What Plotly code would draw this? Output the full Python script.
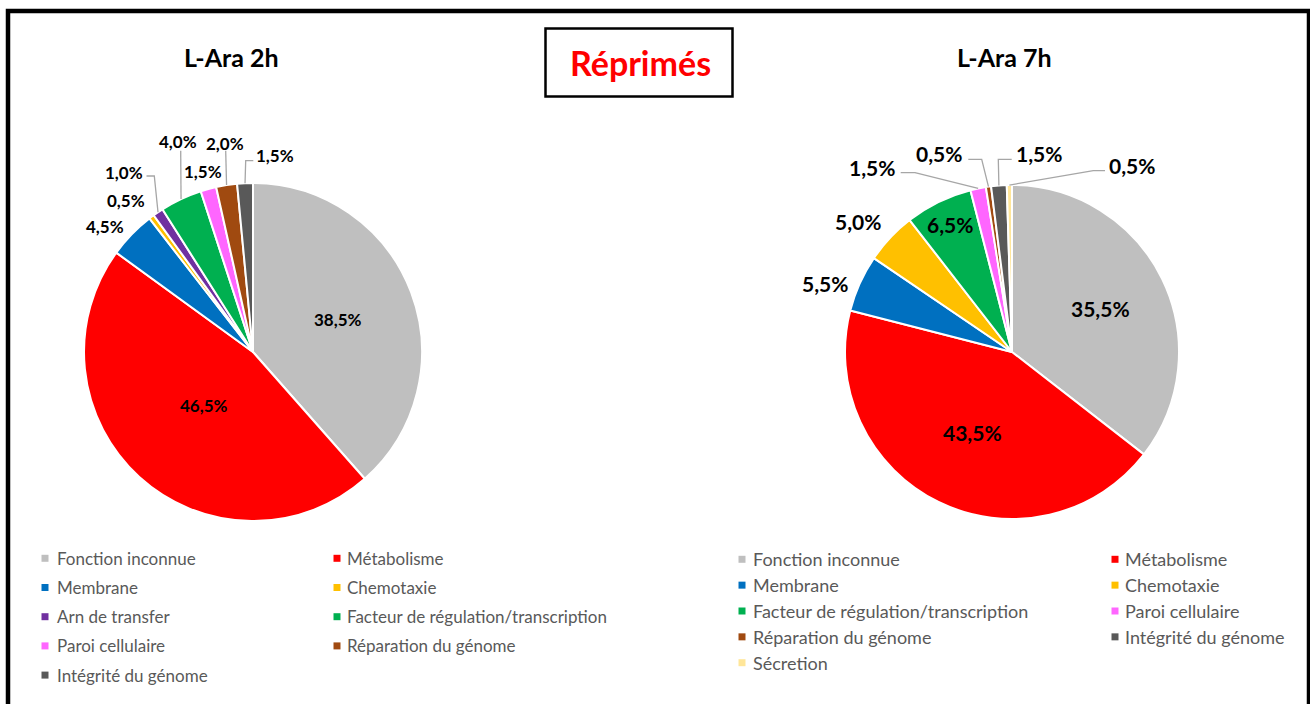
import math
import plotly.graph_objects as go

# ---------------- data ----------------
categories_2h = [
    "Fonction inconnue", "Métabolisme", "Membrane", "Chemotaxie",
    "Arn de transfer", "Facteur de régulation/transcription",
    "Paroi cellulaire", "Réparation du génome", "Intégrité du génome",
]
values_2h = [38.5, 46.5, 4.5, 0.5, 1.0, 4.0, 1.5, 2.0, 1.5]

categories_7h = [
    "Fonction inconnue", "Métabolisme", "Membrane", "Chemotaxie",
    "Facteur de régulation/transcription", "Paroi cellulaire",
    "Réparation du génome", "Intégrité du génome", "Sécretion",
]
values_7h = [35.5, 43.5, 5.5, 5.0, 6.5, 1.5, 0.5, 1.5, 0.5]

titles = ["L-Ara 2h", "L-Ara 7h"]
main_title = "Réprimés"

category_colors = {
    "Fonction inconnue": "#BFBFBF",
    "Métabolisme": "#FF0000",
    "Membrane": "#0070C0",
    "Chemotaxie": "#FFC000",
    "Arn de transfer": "#7030A0",
    "Facteur de régulation/transcription": "#00B050",
    "Paroi cellulaire": "#FF66FF",
    "Réparation du génome": "#A04A10",
    "Intégrité du génome": "#595959",
    "Sécretion": "#FFE699",
}

# ---------------- layout helpers (pixels -> paper) ----------------
W, H = 1310, 704
FONT = "Lato"


def px(x):
    return x / W


def py(y):
    return 1 - y / H


def pct(v):
    return f"{v:.1f}".replace(".", ",") + "%"


def mid_angles(values):
    total = sum(values)
    out, acc = [], 0.0
    for v in values:
        out.append((acc + v / 2) / total * 2 * math.pi)
        acc += v
    return out


def polar(cx, cy, r, a):
    # clockwise from 12 o'clock, in screen pixels
    return cx + r * math.sin(a), cy - r * math.cos(a)


# pie geometry (centre and radius in pixels)
pies = [
    dict(cats=categories_2h, vals=values_2h, cx=253, cy=352, r=169,
         title_xy=(231, 57), label_size=17,
         inside={"Fonction inconnue": 0.54, "Métabolisme": 0.43},
         outside={
             "Membrane": dict(pos=(104.7, 226)),
             "Chemotaxie": dict(pos=(125.5, 200)),
             "Arn de transfer": dict(pos=(124, 172), lead=[(146.5, 176), (154.3, 176)]),
             "Facteur de régulation/transcription": dict(pos=(178, 141.7), lead=[(180.7, 150.7)]),
             "Paroi cellulaire": dict(pos=(203, 171.7)),
             "Réparation du génome": dict(pos=(224.7, 143.8), lead=[(225.7, 150.7)]),
             "Intégrité du génome": dict(pos=(274.5, 155), lead=[(253.3, 160.7), (245.7, 160.7)]),
         },
         legend=dict(x_sq=[45, 337], x_txt=[54.5, 344.7], y0=558.3, dy=29.2, size=17)),
    dict(cats=categories_7h, vals=values_7h, cx=1012, cy=352, r=167,
         title_xy=(1004, 57), label_size=21,
         inside={"Fonction inconnue": 0.59, "Métabolisme": 0.54,
                 "Facteur de régulation/transcription": 0.85},
         outside={
             "Membrane": dict(pos=(825, 283)),
             "Chemotaxie": dict(pos=(858.3, 221.7)),
             "Paroi cellulaire": dict(pos=(871.7, 167.8), lead=[(900.7, 172.7), (915, 172.7)]),
             "Réparation du génome": dict(pos=(939.3, 153.3), lead=[(968.3, 159.3), (981.7, 159.3)]),
             "Intégrité du génome": dict(pos=(1039.3, 153.3), lead=[(1011.7, 159.3), (998.3, 159.3)]),
             "Sécretion": dict(pos=(1131.7, 165), lead=[(1105, 170.7), (1093.3, 170.7)]),
         },
         legend=dict(x_sq=[742, 1115], x_txt=[751, 1123.3], y0=559.3, dy=25.85, size=18)),
]

fig = go.Figure()
annotations = []
shapes = []

for k, p in enumerate(pies):
    cx, cy, r = p["cx"], p["cy"], p["r"]
    fig.add_trace(go.Pie(
        labels=p["cats"],
        values=p["vals"],
        sort=False,
        direction="clockwise",
        rotation=0,
        marker=dict(colors=[category_colors[c] for c in p["cats"]],
                    line=dict(color="white", width=2)),
        textinfo="none",
        hoverinfo="label+percent",
        showlegend=False,
        domain=dict(x=[px(cx - r), px(cx + r)], y=[py(cy + r), py(cy - r)]),
    ))

    angles = mid_angles(p["vals"])
    for cat, v, a in zip(p["cats"], p["vals"], angles):
        if cat in p["inside"]:
            x, y = polar(cx, cy, r * p["inside"][cat], a)
        else:
            spec = p["outside"][cat]
            x, y = spec["pos"]
            if "lead" in spec:
                pts = spec["lead"] + [polar(cx, cy, r, a)]
                path = "M " + " L ".join(f"{px(qx)},{py(qy)}" for qx, qy in pts)
                shapes.append(dict(type="path", xref="paper", yref="paper", path=path,
                                   line=dict(color="#A6A6A6", width=1.3)))
        annotations.append(dict(
            x=px(x), y=py(y), xref="paper", yref="paper", showarrow=False,
            text=pct(v), xanchor="center", yanchor="middle",
            font=dict(family=FONT, size=p["label_size"], color="#000000", weight="bold"),
        ))

    # chart title
    tx, ty = p["title_xy"]
    annotations.append(dict(
        x=px(tx), y=py(ty), xref="paper", yref="paper", showarrow=False,
        text=titles[k], xanchor="center", yanchor="middle",
        font=dict(family=FONT, size=25, color="#000000", weight="bold"),
    ))

    # two-column legend, filled row by row
    lg = p["legend"]
    for i, cat in enumerate(p["cats"]):
        row, col = divmod(i, 2)
        yc = lg["y0"] + row * lg["dy"]
        xs = lg["x_sq"][col]
        shapes.append(dict(type="rect", xref="paper", yref="paper",
                           x0=px(xs - 3.5), x1=px(xs + 3.5), y0=py(yc + 3.5), y1=py(yc - 3.5),
                           fillcolor=category_colors[cat], line=dict(width=0)))
        annotations.append(dict(
            x=px(lg["x_txt"][col]), y=py(yc), xref="paper", yref="paper", showarrow=False,
            text=cat, xanchor="left", yanchor="middle",
            font=dict(family=FONT, size=lg["size"], color="#595959"),
        ))

# boxed main heading
shapes.append(dict(type="rect", xref="paper", yref="paper",
                   x0=px(545.5), x1=px(732.5), y0=py(96.5), y1=py(28.5),
                   line=dict(color="#000000", width=2.5), fillcolor="rgba(0,0,0,0)"))
annotations.append(dict(
    x=px(640), y=py(63), xref="paper", yref="paper", showarrow=False,
    text=main_title, xanchor="center", yanchor="middle",
    font=dict(family=FONT, size=34, color="#FF0000", weight="bold"),
))

# outer frame
shapes.append(dict(type="rect", xref="paper", yref="paper",
                   x0=px(8), x1=px(1309), y0=py(730), y1=py(11),
                   line=dict(color="#000000", width=4.5), fillcolor="rgba(0,0,0,0)"))

fig.update_layout(
    width=W, height=H,
    margin=dict(l=0, r=0, t=0, b=0),
    paper_bgcolor="white",
    plot_bgcolor="white",
    showlegend=False,
    annotations=annotations,
    shapes=shapes,
)

fig.write_html("out.html")
